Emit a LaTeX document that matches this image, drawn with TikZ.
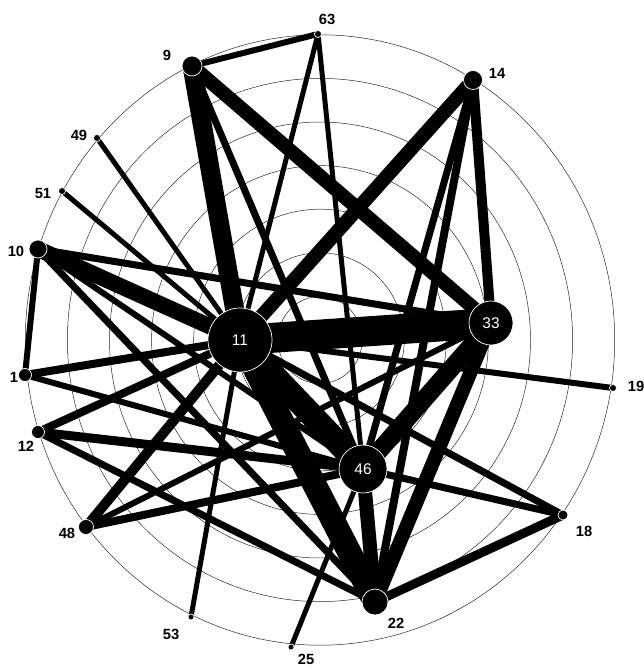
\documentclass[tikz,border=0pt]{standalone}
\usepackage{fontspec}
\setmainfont{Liberation Sans}
\usetikzlibrary{backgrounds}
\begin{document}
\begin{tikzpicture}[
  x=0.025cm, y=-0.025cm,
  ring/.style={line width=0.35pt, draw=black!85},
  lnk/.style={line width=#1*0.711pt, draw=black},
  nd/.style={circle, fill=black, draw=white, line width=0.5pt,
    inner sep=0pt, minimum size=#1*0.05cm},
  inlb/.style={font=\fontsize{11}{12}\selectfont, text=white},
  lb/.style={font=\fontsize{10.5}{12}\selectfont\bfseries, inner sep=0pt},
]
\useasboundingbox (0,0) rectangle (643,669);
% actors, size by degree
\foreach \n/\x/\y/\r in {
    63/318/34/3.5, 9/192/66/10, 14/473/80/9.5, 49/97/138/3.5,
    51/62/191/3.5, 10/38/249/9, 1/25/375/6.5, 19/613/388/3.5,
    12/38/432/6.5, 48/86/527/7.5, 18/563/515/5, 22/375/602/13,
    53/191/617/3, 25/291/647/3} {
  \node[nd=\r] (n\n) at (\x,\y) {};
}
\node[nd=32, inlb] (n11) at (240,340) {11};
\node[nd=22, inlb] (n33) at (491,323) {33};
\node[nd=24, inlb] (n46) at (363,469) {46};
% labels
\foreach \n/\x/\y in {
    63/327/19, 9/167/55, 14/497/73, 49/79/135, 51/43/193,
    10/16/251, 1/14/377, 12/26/446, 48/67/533, 53/171/634,
    25/306/659, 22/396/623, 18/584/531, 19/636/386} {
  \node[lb] (l\n) at (\x,\y) {\n};
}
\begin{scope}[on background layer]
% rings
\foreach \k in {1,...,7}
  \draw[ring] (320,340) ellipse [x radius=42.1*\k, y radius=43.6*\k];
% ties, width by strength
\foreach \a/\b/\w in {
    11/33/30, 11/46/24, 11/22/24, 9/11/19, 9/33/14, 14/11/14,
    10/11/16, 33/46/18, 33/22/14, 46/22/14, 14/33/10, 48/11/10,
    12/46/9, 1/11/8, 12/11/8, 10/33/7, 48/46/8, 48/33/6,
    12/22/7, 1/46/6, 10/22/7, 10/46/6, 10/1/6, 63/9/6,
    63/11/5, 63/46/5, 49/11/5, 51/11/5, 53/11/5, 25/46/5,
    11/19/6, 11/18/7, 46/18/7, 22/18/9, 14/46/7, 14/22/8,
    9/46/7} {
  \draw[lnk=\w] (n\a.center) -- (n\b.center);
}
\end{scope}
\end{tikzpicture}
\end{document}
